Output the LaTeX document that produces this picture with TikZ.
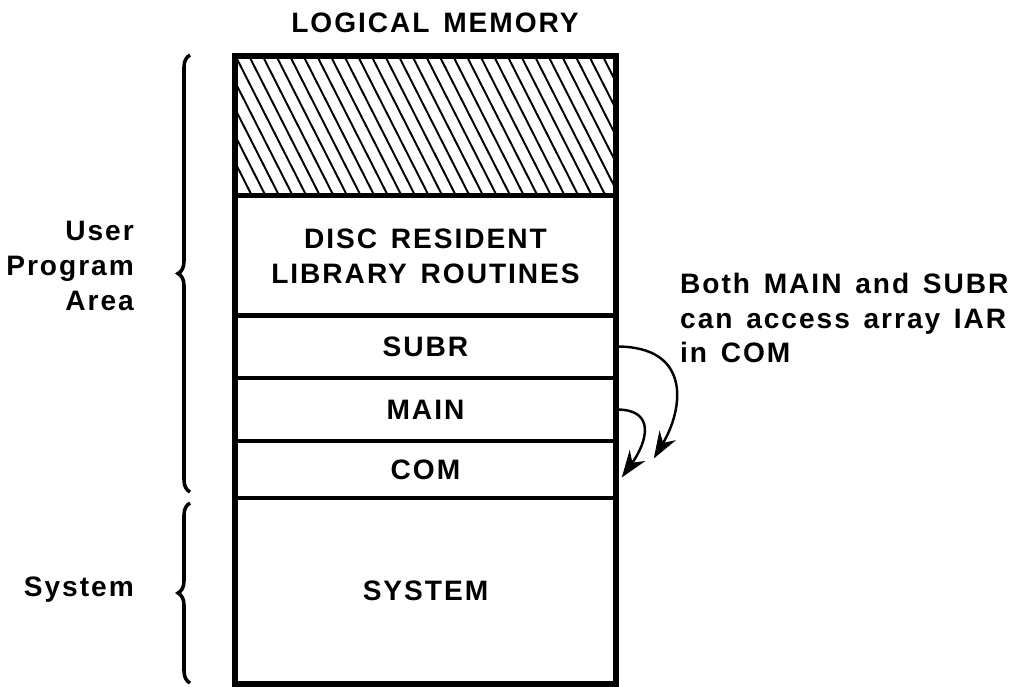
\documentclass[tikz,border=0pt]{standalone}
\usepackage{fontspec}
\setmainfont[LetterSpace=7,WordSpace=1.4]{Liberation Sans}
\usetikzlibrary{calc,positioning,arrows.meta,decorations.pathreplacing}

\begin{document}
\begin{tikzpicture}[x=0.2mm,y=-0.2mm,font=\fontsize{16pt}{19.8pt}\selectfont\bfseries,
        sec/.style={rectangle,draw,line width=2pt,minimum width=75.8mm,inner sep=0pt},
        br/.style={decorate,decoration={brace,amplitude=2.4mm},line width=2pt},
        acc/.style={-{Stealth[length=5.4mm,width=3.8mm]},line width=1.4pt}]
        \useasboundingbox (0,0) rectangle (1025,686);
        % memory map
        \node[sec,minimum height=27.6mm] (free) at (425.5,126) {};
        \node[sec,minimum height=24mm,align=center] (disc) at (425.5,256) {DISC RESIDENT\\LIBRARY ROUTINES};
        \node[sec,minimum height=12.6mm] (subr) at (425.5,346.5) {SUBR};
        \node[sec,minimum height=12.6mm] (main) at (425.5,409.5) {MAIN};
        \node[sec,minimum height=11.4mm] (com) at (425.5,469.5) {COM};
        \node[sec,minimum height=37mm] (sys) at (425.5,590.5) {SYSTEM};
        \begin{scope}
          \clip (free.south west) rectangle (free.north east);
          \foreach \i in {-6,...,28} \draw[line width=1.1pt] (236+\i*13.6,57) -- ++(70,138);
        \end{scope}
        \draw[line width=2.6pt] (free.north west) rectangle (sys.south east);
        \node (title) at (435,23) {LOGICAL MEMORY};
        % areas
        \draw[br] (190,492) -- (190,55); \draw[br] (190,683) -- (190,503);
        \node[align=right,anchor=east] (user) at (140,266) {User\\Program\\Area};
        \node[anchor=east] (system) at (140,590) {System};
        % access
        \draw[acc] (subr.east) .. controls +(75,0) and +(30,-50) .. ($(com.east)+(37,-11)$);
        \draw[acc] (main.east) .. controls +(40,0) and +(25,-35) .. ($(com.east)+(5,8)$);
        \node[align=left,anchor=west] (note) at (674,318) {Both MAIN and SUBR\\can access array IAR\\in COM};
      \end{tikzpicture}
\end{document}
